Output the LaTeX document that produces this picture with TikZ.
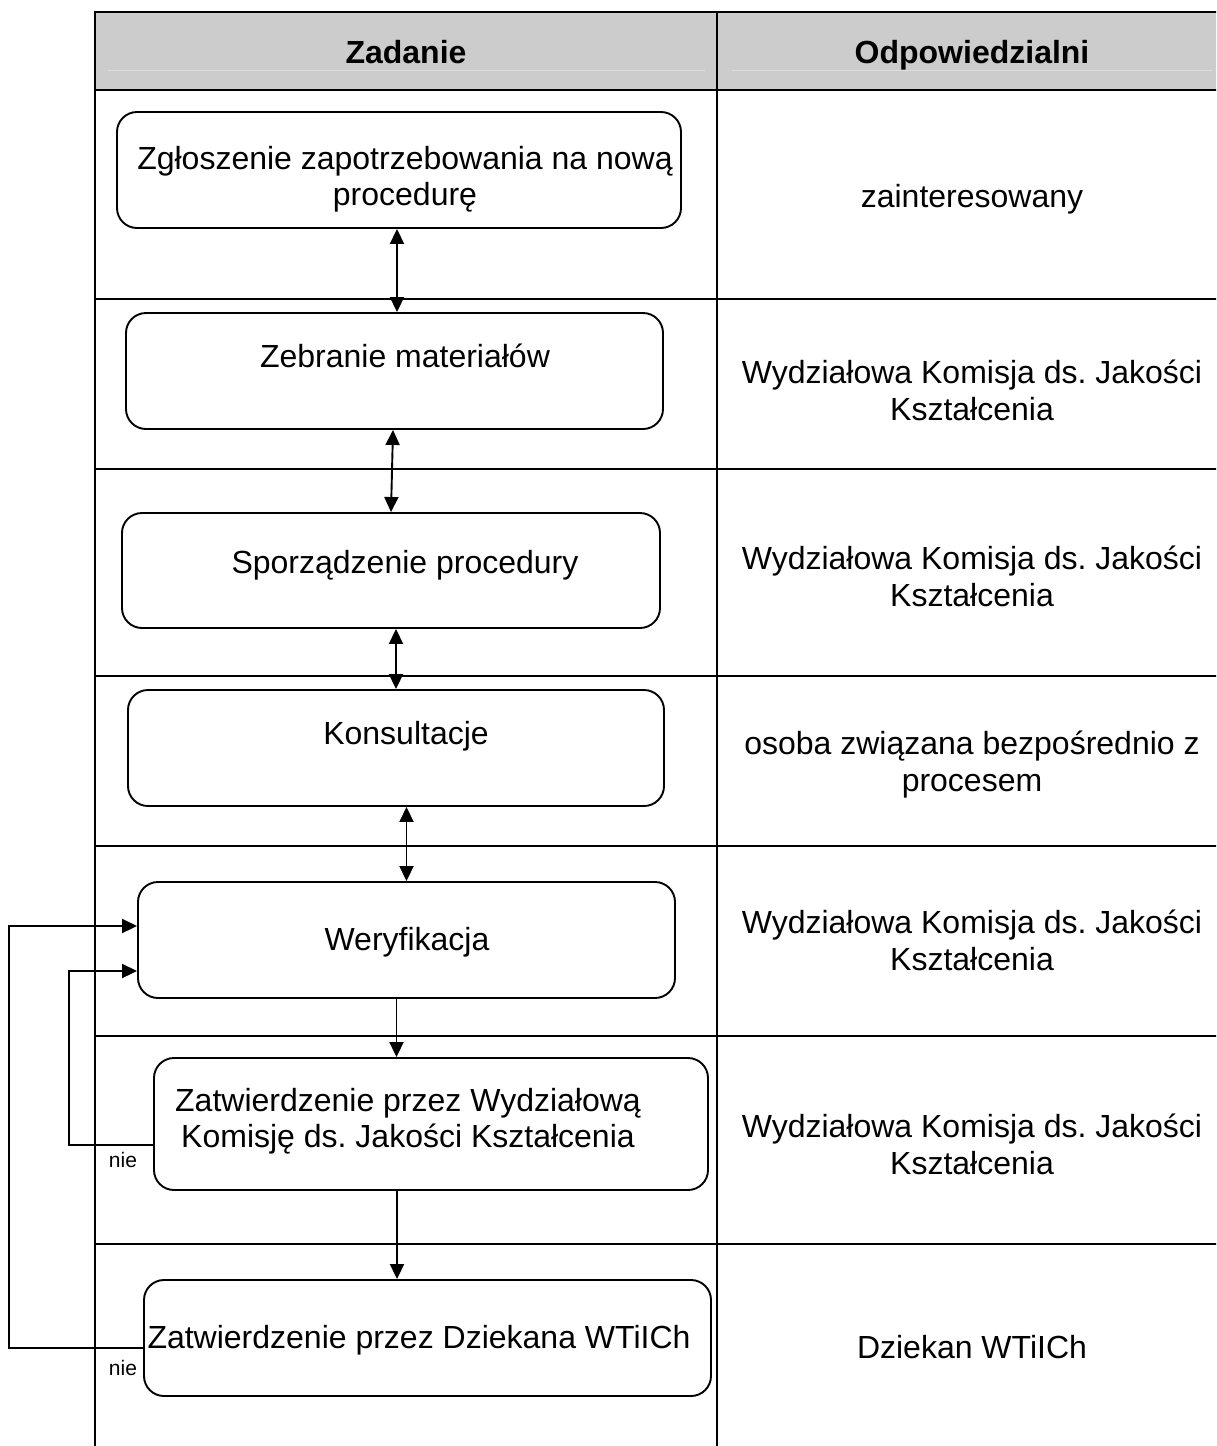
\documentclass[tikz,border=0pt]{standalone}
\usepackage{fontspec}
\setmainfont{Liberation Sans}
\usetikzlibrary{positioning,arrows.meta}
\definecolor{headgray} {RGB}{204,204,204}
\definecolor{headline} {RGB}{222,222,222}
\definecolor{colortext}{RGB}{0,0,0}
\frenchspacing

\begin{document}
\begin{tikzpicture}[
    x=1pt, y=-1pt,
    font={\fontsize{32}{36.5}\selectfont},
    txt/.style={text=colortext,align=center,inner sep=0pt},
    txtbf/.style={txt,font={\fontsize{32}{36.5}\selectfont\bfseries}},
    nie/.style={txt,font={\fontsize{21}{24}\selectfont}},
    stepbox/.style={draw,line width=1.9pt,rounded corners=20pt,inner sep=0pt},
    grid/.style={line width=2.8pt},
    tip/.tip={Triangle[width=14pt,length=15pt]},
    flow/.style={line width=1.9pt,-tip},
    both/.style={line width=1.9pt,tip-tip},
]
    \useasboundingbox (0,0) rectangle (1216,1446);
    \clip (0,0) rectangle (1216,1446);

    % table
    \fill[headgray] (95,12) rectangle (1240,90);
    \draw[headline,line width=1pt] (108,70) -- (705,70) (732,70) -- (1212,70);
    \draw[grid] (95,1450) -- (95,12) -- (1240,12);
    \draw[grid] (717,12) -- (717,1450);
    \foreach \y in {90,299,469,676,846,1036,1244}
        \draw[grid] (95,\y) -- (1240,\y);

    \node[txtbf,anchor=base] (zadanie) at (406,63) {Zadanie};
    \node[txtbf,anchor=base] (odp)     at (972,63) {Odpowiedzialni};

    % steps
    \node[stepbox,minimum width=564,minimum height=116] (zgl) at (399,170)    {};
    \node[stepbox,minimum width=537,minimum height=116] (zeb) at (394.5,371)  {};
    \node[stepbox,minimum width=538,minimum height=115] (spo) at (391,570.5)  {};
    \node[stepbox,minimum width=536,minimum height=116] (kon) at (396,748)    {};
    \node[stepbox,minimum width=537,minimum height=116] (wer) at (406.5,940)  {};
    \node[stepbox,minimum width=554,minimum height=132] (zwk) at (431,1124)   {};
    \node[stepbox,minimum width=567,minimum height=116] (zdz) at (427.5,1338) {};

    \node[txt,anchor=north] (zgl-t) at (405,146)  {Zgłoszenie zapotrzebowania na nową\\procedurę};
    \node[txt,anchor=base]  (zeb-t) at (405,367)  {Zebranie materiałów};
    \node[txt,anchor=base]  (spo-t) at (405,573)  {Sporządzenie procedury};
    \node[txt,anchor=base]  (kon-t) at (406,744)  {Konsultacje};
    \node[txt,anchor=base]  (wer-t) at (407,950)  {Weryfikacja};
    \node[txt,anchor=north] (zwk-t) at (408,1088) {Zatwierdzenie przez Wydziałową\\Komisję ds. Jakości Kształcenia};
    \node[txt,anchor=base]  (zdz-t) at (419,1348) {Zatwierdzenie przez Dziekana WTiICh};

    % responsible
    \node[txt,anchor=base]  (r1) at (972,207)  {zainteresowany};
    \node[txt,anchor=north] (r2) at (972,360)  {Wydziałowa Komisja ds. Jakości\\Kształcenia};
    \node[txt,anchor=north] (r3) at (972,546)  {Wydziałowa Komisja ds. Jakości\\Kształcenia};
    \node[txt,anchor=north] (r4) at (972,731)  {osoba związana bezpośrednio z\\procesem};
    \node[txt,anchor=north] (r5) at (972,910)  {Wydziałowa Komisja ds. Jakości\\Kształcenia};
    \node[txt,anchor=north] (r6) at (972,1114) {Wydziałowa Komisja ds. Jakości\\Kształcenia};
    \node[txt,anchor=base]  (r7) at (972,1358) {Dziekan WTiICh};

    % connectors
    \draw[both] ([xshift=-2pt]zgl.south) -- ([xshift=-2pt]zgl.south |- zeb.north);
    \draw[both] ([xshift=-1.5pt]zeb.south) -- (spo.north);
    \draw[both] (kon.north |- spo.south) -- (kon.north);
    \draw[both] (wer.north |- kon.south) -- (wer.north);
    \draw[flow] ([xshift=-10pt]wer.south) -- ([xshift=-10pt]wer.south |- zwk.north);
    \draw[flow] ([xshift=-34pt]zwk.south) -- ([xshift=-34pt]zwk.south |- zdz.north);

    \draw[flow] ([yshift=-21pt]zwk.west) -- ++(-84,0) |- ([yshift=-31pt]wer.west);
    \draw[flow] ([yshift=-10pt]zdz.west) -- ++(-134,0) |- ([yshift=14pt]wer.west);

    \node[nie,anchor=base] (nie1) at (123,1167) {nie};
    \node[nie,anchor=base] (nie2) at (123,1375) {nie};

\end{tikzpicture}
\end{document}
